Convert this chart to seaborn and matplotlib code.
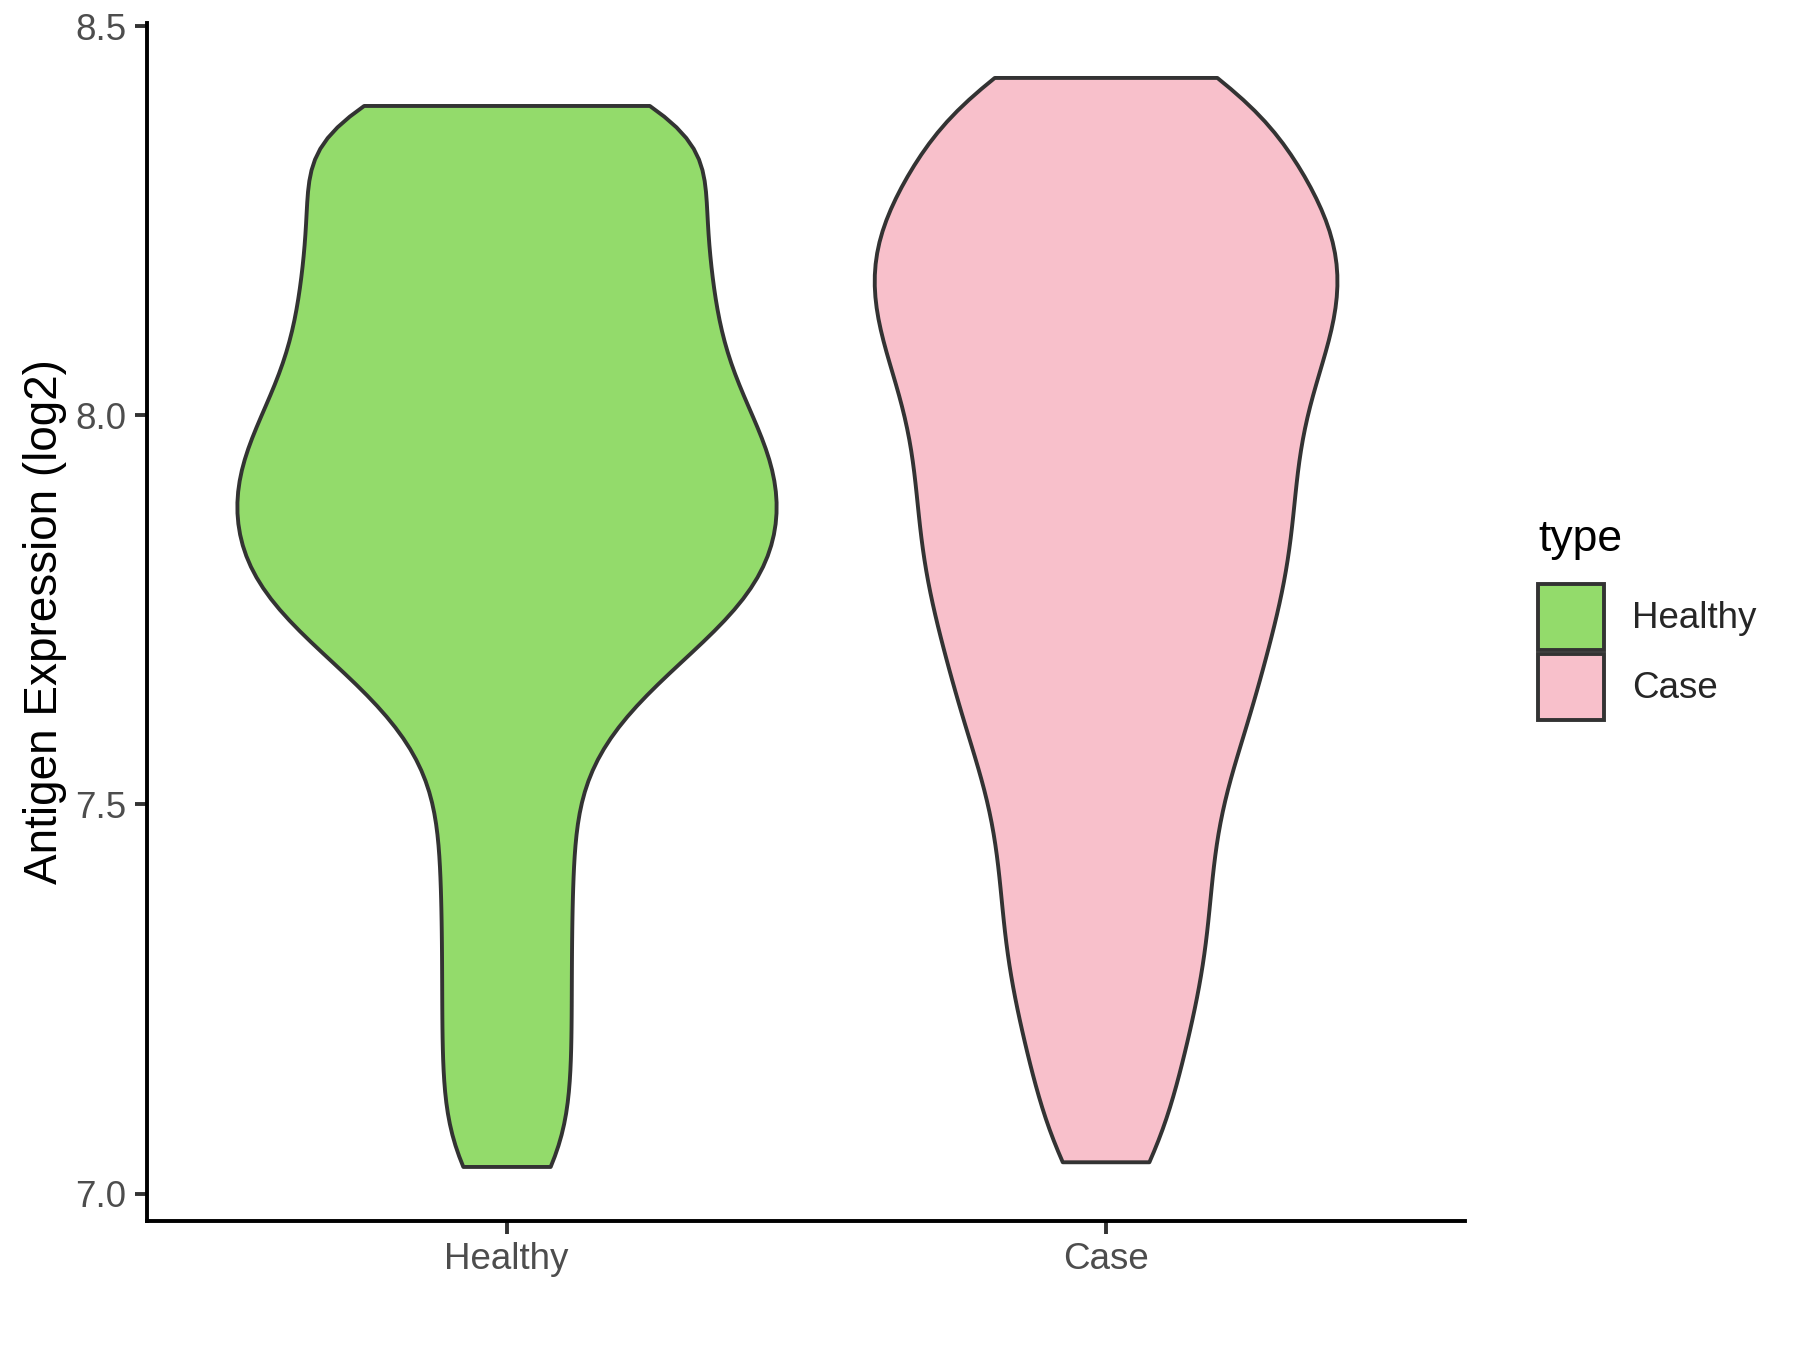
import pandas as pd
import seaborn as sns
import matplotlib.pyplot as plt
from matplotlib.patches import Patch

# values (log2 expression)
healthy = [7.035, 7.110, 7.180, 7.250, 7.320, 7.390, 7.458,
           7.525, 7.585, 7.628, 7.662, 7.690, 7.714, 7.735, 7.754, 7.771,
           7.787, 7.805, 7.822, 7.839, 7.855, 7.871, 7.888,
           7.904, 7.920, 7.936, 7.953, 7.970, 7.988,
           8.005, 8.025, 8.045, 8.066, 8.087, 8.108, 8.130, 8.152, 8.174,
           8.196, 8.218, 8.241, 8.264, 8.287, 8.310, 8.334, 8.358,
           8.385, 8.392, 8.398]
case = [7.041, 7.115, 7.175, 7.228, 7.275, 7.318, 7.360, 7.402, 7.443, 7.483,
        7.522, 7.558, 7.590, 7.620, 7.648, 7.677, 7.705, 7.731,
        7.756, 7.780, 7.804, 7.828, 7.851, 7.874, 7.897, 7.920, 7.943,
        7.966, 7.989, 8.011, 8.033, 8.054, 8.074, 8.094, 8.113, 8.131,
        8.149, 8.167, 8.185, 8.203, 8.222, 8.241, 8.259,
        8.275, 8.296, 8.319, 8.344, 8.371, 8.400, 8.420, 8.434]
groups = ["Healthy", "Case"]
colors = ["#93DB6B", "#F8C0CB"]
yticks = [7.0, 7.5, 8.0, 8.5]

df = pd.DataFrame({
    "type": ["Healthy"] * len(healthy) + ["Case"] * len(case),
    "value": healthy + case,
})

sns.set_style("white")
plt.rcParams['font.family'] = ['Liberation Sans', 'DejaVu Sans']

fig = plt.figure(figsize=(18, 13.5), dpi=100)
ax = fig.add_axes([0.0817, 0.0956, 0.7322, 0.8874])

sns.violinplot(data=df, x="type", y="value", hue="type", order=groups,
               hue_order=groups, palette=colors, cut=0, inner=None,
               density_norm="area", common_norm=True, width=0.9,
               bw_method=0.2, linewidth=2.8, linecolor="#333333",
               saturation=1, legend=False, ax=ax)

ax.set_xlim(-0.6, 1.6)
ax.set_ylim(6.965, 8.504)
ax.set_yticks(yticks)
ax.set_yticklabels([f"{t:.1f}" for t in yticks])
ax.set_xlabel("")
ax.set_ylabel("Antigen Expression (log2)", fontsize=33, color="black", labelpad=6)
ax.tick_params(axis="both", labelsize=26.5, labelcolor="#4D4D4D", color="#333333",
               length=9, width=2.8, left=True, bottom=True, pad=6)
for side in ["top", "right"]:
    ax.spines[side].set_visible(False)
for side in ["left", "bottom"]:
    ax.spines[side].set_color("black")
    ax.spines[side].set_linewidth(2.8)

# legend: title drawn separately so the gap to the keys matches
fig.text(0.8544, 0.600, "type", fontsize=32, color="black", ha="left", va="center")
handles = [Patch(facecolor=c, edgecolor="#333333", linewidth=2.8, label=g)
           for g, c in zip(groups, colors)]
leg = fig.legend(handles=handles, loc="upper left",
                 bbox_to_anchor=(0.8544, 0.5674), frameon=False, fontsize=26.5,
                 handlelength=1.8, handleheight=2.38, handletextpad=0.75,
                 labelspacing=0.1, borderpad=0, borderaxespad=0)

fig.savefig("out.png", dpi=100)
